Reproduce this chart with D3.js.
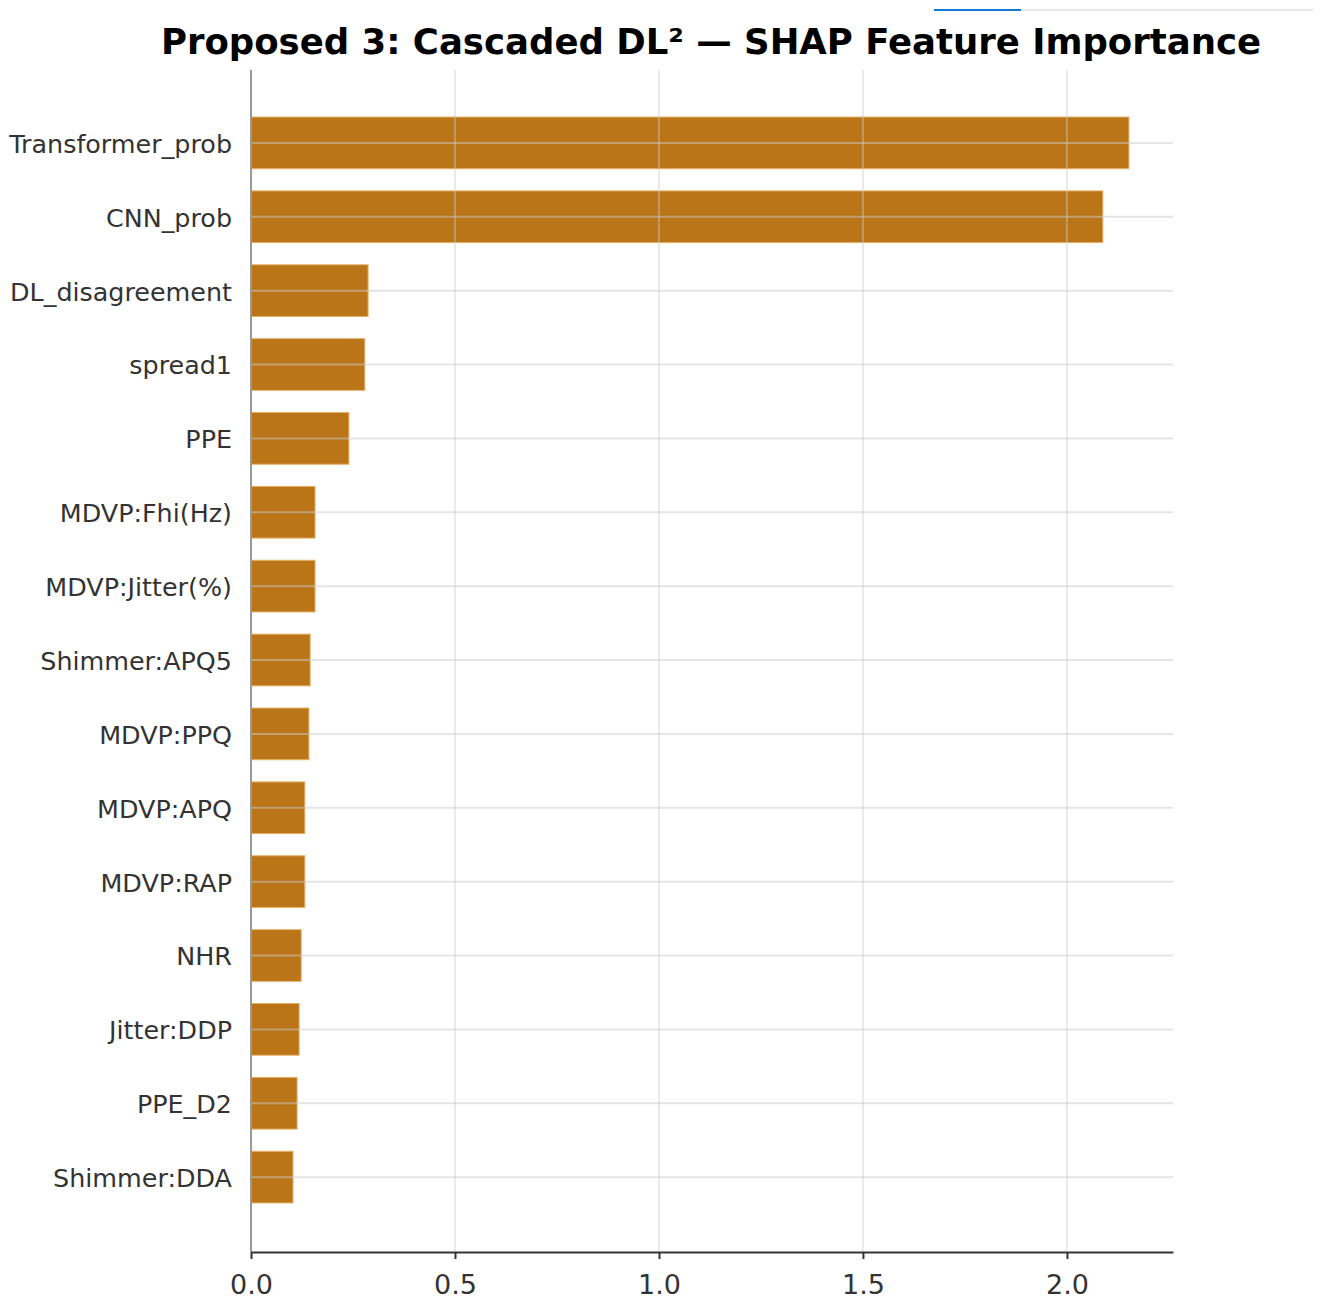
<!DOCTYPE html>
<html>
<head>
<meta charset="utf-8">
<script src="https://cdn.jsdelivr.net/npm/d3@7"></script>
<style>
  body { margin: 0; background: #fff; }
  svg { display: block; font-family: "DejaVu Sans", sans-serif; }
</style>
</head>
<body>
<div id="chart"></div>
<script>
// features, top to bottom
const features = ["Transformer_prob", "CNN_prob", "DL_disagreement", "spread1", "PPE",
  "MDVP:Fhi(Hz)", "MDVP:Jitter(%)", "Shimmer:APQ5", "MDVP:PPQ", "MDVP:APQ",
  "MDVP:RAP", "NHR", "Jitter:DDP", "PPE_D2", "Shimmer:DDA"];
// mean |SHAP| values
const importance = [2.152, 2.088, 0.287, 0.279, 0.240, 0.157, 0.157, 0.145, 0.142,
  0.132, 0.132, 0.123, 0.118, 0.113, 0.103];
const xTicks = [0.0, 0.5, 1.0, 1.5, 2.0];

const W = 1321, H = 1303;
const plotL = 251, plotR = 1173, plotT = 70, plotB = 1252;

const svg = d3.select("#chart").append("svg")
    .attr("width", W)
    .attr("height", H);

// little bar at the top right
svg.append("line").attr("x1", 1021).attr("x2", 1313).attr("y1", 10).attr("y2", 10)
    .attr("stroke", "#e6e6e6").attr("stroke-width", 2);
svg.append("line").attr("x1", 934).attr("x2", 1021).attr("y1", 10).attr("y2", 10)
    .attr("stroke", "#1479d2").attr("stroke-width", 2);

const x = d3.scaleLinear().domain([0, 2.26]).range([plotL, plotR]);
// index scale, one step above and below
const y = d3.scaleLinear().domain([-1, features.length]).range([plotT - 1, plotB - 1]);
const step = y(1) - y(0);
const barH = step * 0.7;

// bars
svg.selectAll("rect.bar")
    .data(importance)
    .enter()
    .append("rect")
    .attr("class", "bar")
    .attr("x", x(0))
    .attr("y", (d, i) => y(i) - barH / 2)
    .attr("width", d => x(d) - x(0))
    .attr("height", barH)
    .attr("fill", "#b97518")
    .attr("stroke", "#e8b26a")
    .attr("stroke-width", 1);

// grid on top of bars
svg.append("g").selectAll("line")
    .data(xTicks.filter(d => d > 0))
    .enter()
    .append("line")
    .attr("x1", d => x(d)).attr("x2", d => x(d))
    .attr("y1", plotT).attr("y2", plotB)
    .attr("stroke", "#cccccc").attr("stroke-opacity", 0.55).attr("stroke-width", 1.5);

svg.append("g").selectAll("line")
    .data(features)
    .enter()
    .append("line")
    .attr("x1", plotL).attr("x2", plotR)
    .attr("y1", (d, i) => y(i)).attr("y2", (d, i) => y(i))
    .attr("stroke", "#cccccc").attr("stroke-opacity", 0.5).attr("stroke-width", 2);

// left spine
svg.append("line")
    .attr("x1", plotL).attr("x2", plotL).attr("y1", plotT).attr("y2", plotB)
    .attr("stroke", "#999999").attr("stroke-width", 2);

// y labels
svg.append("g").selectAll("text")
    .data(features)
    .enter()
    .append("text")
    .attr("x", plotL - 19)
    .attr("y", (d, i) => y(i) + 1)
    .attr("dy", "0.35em")
    .attr("text-anchor", "end")
    .attr("font-size", "25.4px")
    .attr("fill", "#333333")
    .text(d => d);

// x axis
const xAxis = d3.axisBottom(x)
    .tickValues(xTicks)
    .tickFormat(d3.format(".1f"))
    .tickSizeInner(7)
    .tickSizeOuter(0)
    .tickPadding(16);

const gx = svg.append("g")
    .attr("transform", "translate(0," + plotB + ")")
    .call(xAxis);
gx.select(".domain").attr("stroke", "#333333").attr("stroke-width", 2);
gx.selectAll(".tick line").attr("stroke", "#333333").attr("stroke-width", 2);
gx.selectAll(".tick text")
    .attr("font-size", "27px")
    .attr("fill", "#333333")
    .attr("font-family", "DejaVu Sans, sans-serif");

// title
svg.append("text")
    .attr("x", 711)
    .attr("y", 54)
    .attr("text-anchor", "middle")
    .attr("font-size", "35.5px")
    .attr("font-weight", "bold")
    .attr("fill", "#000")
    .text("Proposed 3: Cascaded DL\u00b2 \u2014 SHAP Feature Importance");
</script>
</body>
</html>
